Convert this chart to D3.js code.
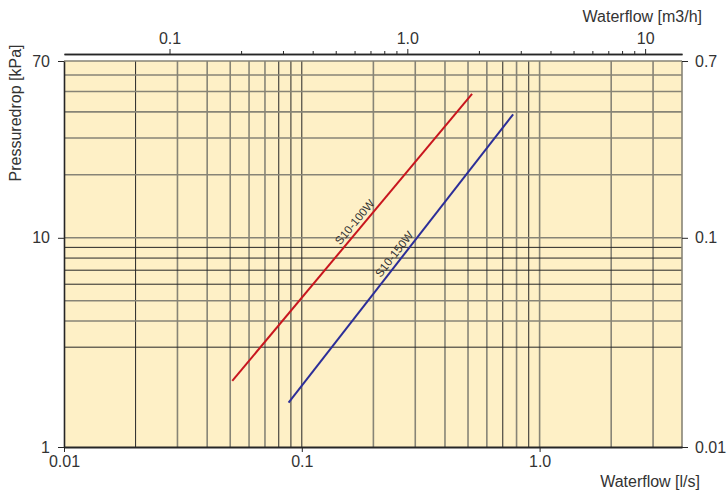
<!DOCTYPE html>
<html>
<head>
<meta charset="utf-8">
<script src="https://cdn.jsdelivr.net/npm/d3@7"></script>
<style>
  body { margin: 0; background: #fff; }
  text { font-family: "Liberation Sans", Arial, sans-serif; fill: #333; }
</style>
</head>
<body>
<div id="chart"></div>
<script>
// flow in l/s, pressure drop in kPa
const series = ["S10-100W", "S10-150W"];
const flow100 = [0.051, 0.52];
const drop100 = [2.07, 48.7];
const flow150 = [0.088, 0.774];
const drop150 = [1.63, 38.9];
const labelFlow = [0.177, 0.26];

const bottomTicks = [0.01, 0.1, 1];
const bottomLabels = ["0.01", "0.1", "1.0"];
const topMajor = [0.1, 1, 10];
const topLabels = ["0.1", "1.0", "10"];
const topMinor = [0.2, 0.3, 0.4, 0.5, 0.6, 0.7, 0.8, 0.9, 2, 3, 4, 5, 6, 7, 8, 9];
const leftTicks = [1, 10, 70];
const rightTicks = [0.01, 0.1, 0.7];
const rightLabels = ["0.01", "0.1", "0.7"];

const xGrid = [0.02, 0.03, 0.04, 0.05, 0.06, 0.07, 0.08, 0.09, 0.1,
               0.2, 0.3, 0.4, 0.5, 0.6, 0.7, 0.8, 0.9, 1, 2, 3];
const xGridDark = [0.02, 0.08, 0.09, 0.1, 0.7, 0.9];
const yGrid = [3, 4, 5, 6, 7, 8, 9, 10, 20, 30, 40, 50, 60];
const yGridDark = [3, 6, 7, 8, 9];

const width = 728;
const height = 491;
const plotLeft = 64, plotRight = 682, plotTop = 61, plotBottom = 447;

const svg = (
    d3.select("#chart")
    .append("svg")
    .attr("width", width)
    .attr("height", height)
);

const x = d3.scaleLog().domain([0.01, 3.97]).range([plotLeft, plotRight]);
const xTop = d3.scaleLog().domain([0.01 * 3.6, 3.97 * 3.6]).range([plotLeft, plotRight]);
const y = d3.scaleLog().domain([1, 70]).range([plotBottom, plotTop]);
const yRight = d3.scaleLog().domain([0.01, 0.7]).range([plotBottom, plotTop]);

// background
svg.append("rect")
    .attr("x", plotLeft).attr("y", plotTop)
    .attr("width", plotRight - plotLeft).attr("height", plotBottom - plotTop)
    .attr("fill", "#fef0c6");

// grid
const grey = "#878476", dark = "#262626";
xGrid.forEach((v) => {
    const isDark = xGridDark.includes(v);
    svg.append("line")
        .attr("x1", x(v)).attr("x2", x(v))
        .attr("y1", plotTop).attr("y2", plotBottom)
        .attr("stroke", isDark ? dark : grey)
        .attr("stroke-width", isDark ? 1 : 1.6);
});
yGrid.forEach((v) => {
    const isDark = yGridDark.includes(v);
    svg.append("line")
        .attr("x1", plotLeft).attr("x2", plotRight)
        .attr("y1", y(v)).attr("y2", y(v))
        .attr("stroke", isDark ? dark : grey)
        .attr("stroke-width", isDark ? 1 : 1.6);
});

// frame
svg.append("line").attr("x1", plotLeft).attr("x2", plotRight).attr("y1", plotTop).attr("y2", plotTop)
    .attr("stroke", grey).attr("stroke-width", 1.6);
svg.append("line").attr("x1", plotRight).attr("x2", plotRight).attr("y1", plotTop).attr("y2", plotBottom)
    .attr("stroke", grey).attr("stroke-width", 1.6);

// curves
const line = d3.line().x((d) => x(d[0])).y((d) => y(d[1]));
const curves = [
    { name: series[0], flow: flow100, drop: drop100, color: "#c8161e", lf: labelFlow[0] },
    { name: series[1], flow: flow150, drop: drop150, color: "#2c2e98", lf: labelFlow[1] },
];
curves.forEach((c) => {
    const pts = c.flow.map((f, i) => [f, c.drop[i]]);
    svg.append("path")
        .attr("d", line(pts))
        .attr("fill", "none")
        .attr("stroke", c.color)
        .attr("stroke-width", 2);
    // label along the line
    const x0 = x(pts[0][0]), y0 = y(pts[0][1]);
    const x1 = x(pts[1][0]), y1 = y(pts[1][1]);
    const angle = Math.atan2(y1 - y0, x1 - x0) * 180 / Math.PI;
    const lx = x(c.lf);
    const ly = y0 + (lx - x0) * (y1 - y0) / (x1 - x0);
    svg.append("text")
        .attr("transform", `translate(${lx},${ly}) rotate(${angle})`)
        .attr("y", -4)
        .attr("text-anchor", "middle")
        .attr("font-size", 11.5)
        .text(c.name);
});

function styleAxis(g) {
    g.selectAll("path.domain").attr("stroke", dark).attr("stroke-width", 1.6);
    g.selectAll(".tick line").attr("stroke", dark);
    g.selectAll(".tick text").attr("fill", "#333").attr("font-size", 16)
        .attr("font-family", "Liberation Sans, Arial, sans-serif");
}

// bottom axis
svg.append("g")
    .attr("transform", `translate(0, ${plotBottom})`)
    .call(
        d3.axisBottom(x).tickValues(bottomTicks).tickSize(5).tickSizeOuter(0)
        .tickPadding(4)
        .tickFormat((d, i) => bottomLabels[i])
    )
    .call(styleAxis)
    .call((g) => g.select("path.domain").attr("stroke-width", 2));

// left axis
svg.append("g")
    .attr("transform", `translate(${plotLeft}, 0)`)
    .call(
        d3.axisLeft(y).tickValues(leftTicks).tickSize(6).tickSizeOuter(0)
        .tickPadding(8)
        .tickFormat(d3.format("d"))
    )
    .call(styleAxis);

// right axis
svg.append("g")
    .attr("transform", `translate(${plotRight}, 0)`)
    .call(
        d3.axisRight(yRight).tickValues(rightTicks).tickSize(6).tickSizeOuter(0)
        .tickPadding(7)
        .tickFormat((d, i) => rightLabels[i])
    )
    .call(styleAxis)
    .call((g) => g.select("path.domain").remove());

// top axis (m3/h)
const topY = 54;
svg.append("g")
    .attr("transform", `translate(0, ${topY})`)
    .call(d3.axisTop(xTop).tickValues(topMinor).tickSize(3).tickSizeOuter(0).tickFormat(""))
    .call(styleAxis);
svg.append("g")
    .attr("transform", `translate(0, ${topY})`)
    .call(
        d3.axisTop(xTop).tickValues(topMajor).tickSize(5).tickSizeOuter(0)
        .tickPadding(5)
        .tickFormat((d, i) => topLabels[i])
    )
    .call(styleAxis);

// axis titles
svg.append("text")
    .attr("x", 702).attr("y", 22)
    .attr("text-anchor", "end")
    .attr("font-size", 16)
    .text("Waterflow [m3/h]");
svg.append("text")
    .attr("x", 700).attr("y", 487)
    .attr("text-anchor", "end")
    .attr("font-size", 16)
    .text("Waterflow [l/s]");
svg.append("text")
    .attr("transform", "translate(21, 113) rotate(-90)")
    .attr("text-anchor", "middle")
    .attr("font-size", 16)
    .text("Pressuredrop [kPa]");
</script>
</body>
</html>
